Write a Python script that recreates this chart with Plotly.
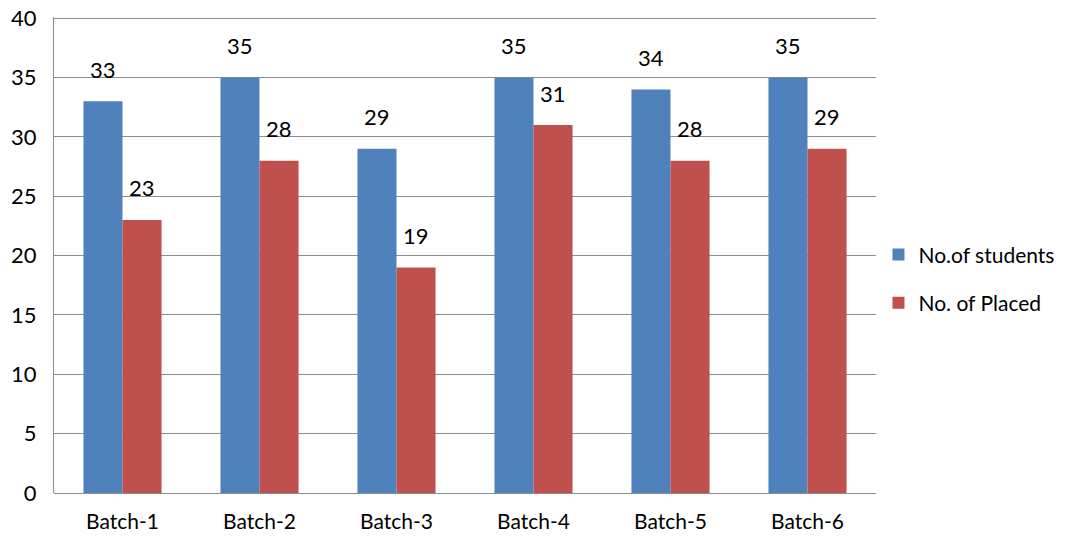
import plotly.graph_objects as go

categories = ["Batch-1", "Batch-2", "Batch-3", "Batch-4", "Batch-5", "Batch-6"]
students = [33, 35, 29, 35, 34, 35]
placed = [23, 28, 19, 31, 28, 29]
series_names = ["No.of students", "No. of Placed"]
y_ticks = [0, 5, 10, 15, 20, 25, 30, 35, 40]

FONT = "Lato"
BLUE = "#4F81BD"
RED = "#C0504D"
GRID = "#8C8C8C"

fig = go.Figure()
fig.add_trace(go.Bar(x=categories, y=students, name=series_names[0],
                     marker=dict(color=BLUE, line=dict(width=0)), legendgroup="a"))
fig.add_trace(go.Bar(x=categories, y=placed, name=series_names[1],
                     marker=dict(color=RED, line=dict(width=0)), legendgroup="b"))

bar_half = 19.5
for cat, v in zip(categories, students):
    fig.add_annotation(x=cat, y=v, text=str(v), showarrow=False, xshift=-bar_half,
                       yshift=32, yanchor="middle", font=dict(family=FONT, size=22, color="#000"))
for cat, v in zip(categories, placed):
    fig.add_annotation(x=cat, y=v, text=str(v), showarrow=False, xshift=bar_half,
                       yshift=32, yanchor="middle", font=dict(family=FONT, size=22, color="#000"))

fig.update_layout(
    width=1086, height=542,
    margin=dict(l=54, r=210, t=17, b=49, autoexpand=False),
    paper_bgcolor="white", plot_bgcolor="white",
    barmode="group", bargap=0.43, bargroupgap=0,
    font=dict(family=FONT, size=22, color="#000"),
    legend=dict(x=1.003, xanchor="left", y=0.45, yanchor="middle",
                tracegroupgap=18, font=dict(family=FONT, size=21, color="#000"),
                itemwidth=30, bgcolor="rgba(0,0,0,0)"),
    xaxis=dict(showgrid=False, showline=False, ticks="", tickfont=dict(size=21),
               automargin=False, ticklabelstandoff=14),
    yaxis=dict(range=[0, 40.1], tickvals=y_ticks, showgrid=True, gridcolor=GRID, gridwidth=1,
               showline=True, linecolor=GRID, linewidth=1, zeroline=True, zerolinecolor=GRID,
               zerolinewidth=1, ticks="", ticklen=0, tickfont=dict(size=22),
               automargin=False, ticklabelstandoff=12),
)

fig.write_html("out.html", config={"displayModeBar": False},
               post_script="document.body.style.margin='0';")
